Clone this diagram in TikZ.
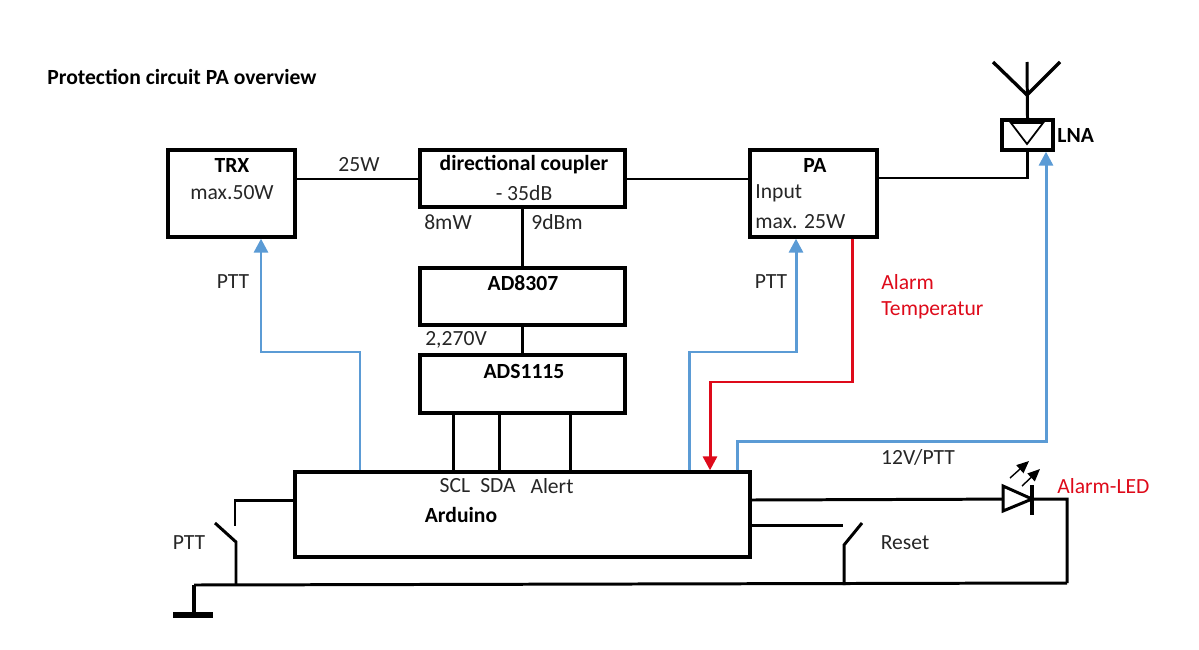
\documentclass[tikz,border=0pt]{standalone}
\usepackage{fontspec}
\setmainfont{Carlito}
\usepackage{xcolor}
\usetikzlibrary{arrows.meta, calc}
\definecolor{pttblue}{RGB}{91,155,213}
\definecolor{alarmred}{RGB}{222,10,26}
\tikzset{
  box/.style={rectangle, draw=black, line width=1.9pt, inner sep=0pt},
  wire/.style={draw=black, line width=1.7pt},
  sig/.style={draw=pttblue, line width=1.7pt, -{Triangle[length=8pt,width=8pt]}},
  alarm/.style={draw=alarmred, line width=1.7pt, -{Triangle[length=8pt,width=8pt]}},
  txt/.style={font=\fontsize{12.3}{16}\selectfont, inner sep=0pt, text=black!85},
  bold/.style={txt, font=\fontsize{12.3}{16}\selectfont\bfseries, text=black},
  redtxt/.style={txt, text=alarmred},
}
\begin{document}
\begin{tikzpicture}[x=0.02cm, y=-0.02cm]
  \useasboundingbox (0,0) rectangle (1199,649);

  \node[bold, anchor=west] (title) at (47,77) {Protection circuit PA overview};

  % blocks
  \node[box, minimum width=2.54cm, minimum height=1.74cm] (TRX) at (231.5,193.5) {};
  \node[box, minimum width=4.1cm, minimum height=1.14cm] (DC) at (522.5,178.5) {};
  \node[box, minimum width=2.54cm, minimum height=1.74cm] (PA) at (813.5,193.5) {};
  \node[box, minimum width=4.1cm, minimum height=1.14cm] (AD) at (522.5,296.5) {};
  \node[box, minimum width=4.1cm, minimum height=1.16cm] (ADS) at (522.5,384) {};
  \node[box, minimum width=9.1cm, minimum height=1.7cm] (ARD) at (522.5,514.5) {};
  \node[box, minimum width=1.02cm, minimum height=0.6cm] (LNA) at (1027.5,135) {};

  % block texts
  \node[bold] (trxname) at (232,165) {TRX};
  \node[txt] (trxmax) at (232,193) {max.50W};
  \node[bold] (dcname) at (524,165) {directional coupler};
  \node[txt] (dcdb) at (524,193) {- 35dB};
  \node[bold] (paname) at (815,165) {PA};
  \node[txt, anchor=west] (pain) at (755,193) {Input};
  \node[txt, anchor=west] (pamax) at (755,222) {max. 25W};
  \node[bold] (adname) at (523,283) {AD8307};
  \node[bold] (adsname) at (524,371) {ADS1115};
  \node[bold] (ardname) at (461,515) {Arduino};
  \node[txt] (scl) at (455,486) {SCL};
  \node[txt] (sda) at (498,486) {SDA};
  \node[txt] (alert) at (552,486) {Alert};

  % wire labels
  \node[txt] (l25) at (359,165) {25W};
  \node[txt] (l8) at (448,222) {8mW};
  \node[txt] (l9) at (557,222) {9dBm};
  \node[txt] (l2) at (456,340) {2,270V};
  \node[txt] (lptt1) at (233,282) {PTT};
  \node[txt] (lptt2) at (771,282) {PTT};
  \node[txt] (lptt3) at (189,543) {PTT};
  \node[txt] (l12) at (918,457) {12V/PTT};
  \node[txt] (lreset) at (905,543) {Reset};
  \node[bold, anchor=west] (llna) at (1057,135) {LNA};
  \node[redtxt, anchor=west] (lalarm) at (881,282) {Alarm};
  \node[redtxt, anchor=west] (ltemp) at (881,310) {Temperatur};
  \node[redtxt, anchor=west] (lled) at (1057,486) {Alarm-LED};

  % main signal path
  \draw[wire] (TRX.east |- 0,179) -- (DC.west |- 0,179);
  \draw[wire] (DC.east |- 0,179) -- (PA.west |- 0,179);
  \draw[wire] (PA.east |- 0,178) -- (LNA.south |- 0,178) -- (LNA.south);
  \draw[wire] (DC.south) -- (AD.north);
  \draw[wire] (AD.south) -- (ADS.north);
  \draw[wire] (ADS.south -| 453,0) -- (ARD.north -| 453,0);
  \draw[wire] (ADS.south -| 499,0) -- (ARD.north -| 499,0);
  \draw[wire] (ADS.south -| 570,0) -- (ARD.north -| 570,0);

  % blue and red lines
  \draw[sig] (ARD.north -| 360,0) -- (360,352) -- (261,352) -- (TRX.south -| 261,0);
  \draw[sig] (ARD.north -| 689,0) -- (689,352) -- (796,352) -- (PA.south -| 796,0);
  \draw[sig] (ARD.north -| 737,0) -- (737,441) -- (1046,441) -- (LNA.south -| 1046,0);
  \draw[alarm] (PA.south -| 852,0) -- (852,382) -- (710,382) -- (ARD.north -| 710,0);

  % antenna
  \coordinate (ant) at (1027,95);
  \draw[wire] (LNA.north) -- (1027,62);
  \draw[wire, line width=1.9pt] (993,62) -- (ant) -- (1060,62);
  \draw[wire, line width=1pt] (1011,123) -- (1043,123) -- (1027,144) -- cycle;

  % ground and switches
  \coordinate (gnd) at (194,585);
  \coordinate (gl) at (173,615);
  \coordinate (gr) at (213,615);
  \coordinate (corner) at (1067,583);
  \draw[wire] (gnd) -- (corner);
  \draw[wire, line width=2.2pt] (gnd) -- (194,615);
  \draw[draw=black, line width=3.4pt] (gl) -- (gr);
  \draw[wire] (ARD.west |- 0,500) -- (235,500) -- (235,526);
  \draw[wire] (215,523) -- (236,542) -- (236,585);
  \draw[wire] (ARD.east |- 0,525) -- (843,525);
  \draw[wire] (862,523) -- (844,545) -- (844,585);

  % led
  \coordinate (ledbar) at (1032,499);
  \draw[wire] (ARD.east |- 0,500) -- (ledbar) -- (1067,499) -- (corner);
  \draw[wire, line width=1.7pt, fill=white] (1003,486) -- (1003,511) -- (ledbar) -- cycle;
  \draw[wire, line width=2.2pt] (1032,485) -- (1032,515);
  \draw[line width=0.8pt, -{Triangle[length=7pt,width=6pt]}] (1010,478) -- (1029,461);
  \draw[line width=0.8pt, -{Triangle[length=7pt,width=6pt]}] (1022,486) -- (1040,469);
\end{tikzpicture}
\end{document}
